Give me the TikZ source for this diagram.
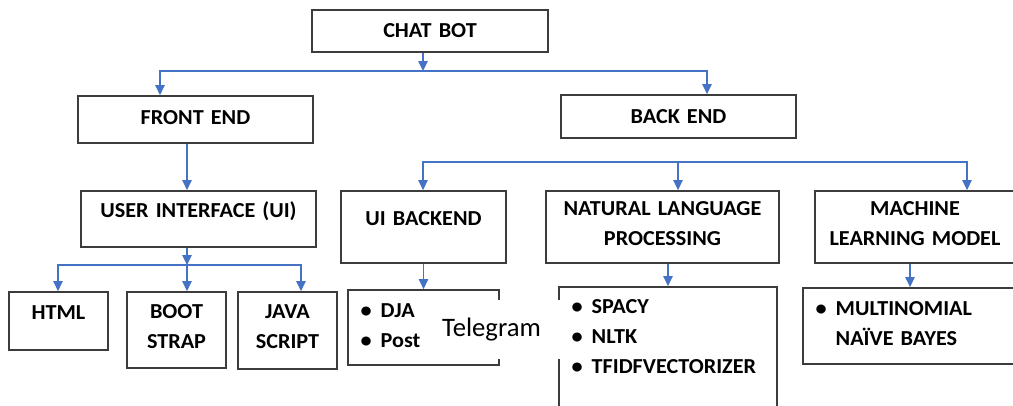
\documentclass[tikz,border=0pt]{standalone}
\usepackage{fontspec}
\setmainfont{Carlito}
\newfontfamily\boxfamily{Carlito}[FakeStretch=1.04,WordSpace=0.5]
\usepackage{tikz}
\usetikzlibrary{arrows.meta}
\definecolor{boxgray}{RGB}{60,60,60}
\definecolor{linkblue}{RGB}{68,114,196}
\newcommand{\boxfont}{\boxfamily\bfseries\fontsize{16}{22.5}\selectfont}
\newcommand{\itm}[1]{\makebox[15pt][l]{\textbullet}#1}

\begin{document}
\begin{tikzpicture}[
  x=0.75pt,y=-0.75pt,
  box/.style={rectangle,draw=boxgray,line width=1.3pt,fill=white,inner sep=0pt,
    font=\boxfont,text height=10pt,align=center},
  listbox/.style={box,align=left,inner xsep=9.5pt},
  arrow/.style={-{Triangle[length=7.5pt,width=7pt]},draw=linkblue,line width=1.1pt}
]
  \clip (0,0) rectangle (1013,405);

  \node[box,minimum width=177pt,minimum height=31.5pt,text width=177pt,text depth=0pt] (chatbot) at (430,31) {CHAT BOT};
  \node[box,minimum width=176.25pt,minimum height=35.25pt,text width=176.25pt,text depth=3pt] (front) at (195.5,119.5) {FRONT END};
  \node[box,minimum width=176.25pt,minimum height=32.25pt,text width=176.25pt,text depth=0pt] (back) at (678.5,116.5) {BACK END};

  \node[box,minimum width=176.25pt,minimum height=42pt,text width=176.25pt,text depth=12pt] (ui) at (198.5,219) {USER INTERFACE (UI)};
  \node[box,minimum width=123.75pt,minimum height=54pt,text width=123.75pt,text depth=12pt] (uiback) at (423.5,227) {UI BACKEND};
  \node[box,minimum width=174.75pt,minimum height=54pt,text width=174.75pt,text depth=27pt] (nlp) at (662.5,227) {NATURAL LANGUAGE\\PROCESSING};
  \node[box,minimum width=150pt,minimum height=54pt,text width=150pt,text depth=27pt] (ml) at (915,227) {MACHINE\\LEARNING MODEL};

  % front end tools
  \node[box,minimum width=74.25pt,minimum height=43.5pt,text width=74.25pt,text depth=12pt] (html) at (58.5,321) {HTML};
  \node[box,minimum width=74.25pt,minimum height=57pt,text width=74.25pt,text depth=27pt] (boot) at (176.5,330) {BOOT\\STRAP};
  \node[box,minimum width=74.25pt,minimum height=57.75pt,text width=74.25pt,text depth=27.75pt] (java) at (287.5,330.5) {JAVA\\SCRIPT};

  % back end tools
  \node[listbox,minimum width=113.25pt,minimum height=56.25pt,text width=94.25pt,text depth=24.75pt] (dja) at (423.5,327.5) {\itm{DJA}\\\itm{Post}};
  \node[listbox,minimum width=163.5pt,minimum height=99.75pt,text width=144.5pt,text depth=69.75pt] (spacy) at (668,353.5) {\itm{SPACY}\\\itm{NLTK}\\\itm{TFIDFVECTORIZER}};
  \node[listbox,minimum width=160.5pt,minimum height=57pt,text width=141.5pt,text depth=25.5pt] (multi) at (910,326) {\itm{MULTINOMIAL}\\\hspace*{15pt}NAÏVE BAYES};

  \node[fill=white,inner sep=0pt,minimum width=107.25pt,minimum height=44.25pt,
    font=\fontsize{20}{24}\selectfont] (telegram) at (491.5,329.5) {Telegram};

  \coordinate (topj) at (423,71);
  \coordinate (fj) at (160,71);
  \coordinate (bj) at (707,71);
  \coordinate (uij) at (187,265);
  \coordinate (hj) at (58,265);
  \coordinate (jj) at (301,265);
  \coordinate (ubj) at (423,162);
  \coordinate (nj) at (678,162);
  \coordinate (mj) at (967,162);

  \draw[arrow] (chatbot.south -| topj) -- (topj);
  \draw[arrow] (bj) -- (fj) -- (front.north -| fj);
  \draw[arrow] (fj) -- (bj) -- (back.north -| bj);

  \draw[arrow] (front.south -| uij) -- (ui.north -| uij);
  \draw[arrow] (ui.south -| uij) -- (uij);
  \draw[arrow] (jj) -- (hj) -- (html.north -| hj);
  \draw[arrow] (uij) -- (boot.north -| uij);
  \draw[arrow] (hj) -- (jj) -- (java.north -| jj);

  \draw[arrow] (mj) -- (ubj) -- (uiback.north -| ubj);
  \draw[arrow] (nj) -- (nlp.north -| nj);
  \draw[arrow] (ubj) -- (mj) -- (ml.north -| mj);

  \draw[arrow] (uiback.south) -- (dja.north);
  \draw[arrow] (nlp.south -| spacy.north) -- (spacy.north);
  \draw[arrow] (ml.south -| multi.north) -- (multi.north);
\end{tikzpicture}
\end{document}
